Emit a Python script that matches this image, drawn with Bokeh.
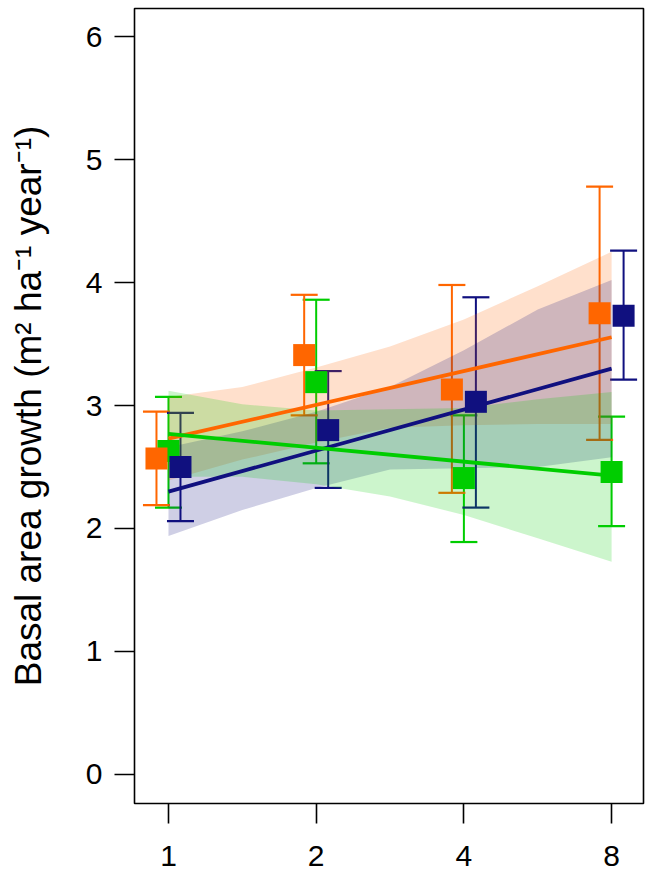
import numpy as np
from bokeh.plotting import figure
from bokeh.models import Range1d, FixedTicker, ColumnDataSource, Whisker, TeeHead
from bokeh.embed import file_html
from bokeh.resources import INLINE

# ---- data ----
doses = [1, 2, 4, 8]
tick_labels = ["1", "2", "4", "8"]

orange_mean = [2.57, 3.41, 3.13, 3.75]
orange_lo = [2.19, 2.92, 2.29, 2.72]
orange_hi = [2.95, 3.90, 3.98, 4.78]

green_mean = [2.63, 3.19, 2.41, 2.46]
green_lo = [2.17, 2.53, 1.89, 2.02]
green_hi = [3.07, 3.86, 2.92, 2.91]

navy_mean = [2.50, 2.80, 3.03, 3.73]
navy_lo = [2.06, 2.33, 2.17, 3.21]
navy_hi = [2.94, 3.28, 3.88, 4.26]

# fitted lines (at dose 1 and 8)
fit_dose = [1, 8]
orange_fit = [2.73, 3.555]
green_fit = [2.77, 2.43]
navy_fit = [2.30, 3.30]

# confidence bands
band_dose = [1, 1.414, 2, 2.828, 4, 5.657, 8]
orange_band_lo = [2.39, 2.56, 2.70, 2.82, 2.84, 2.85, 2.85]
orange_band_hi = [3.07, 3.15, 3.31, 3.48, 3.70, 3.97, 4.25]
green_band_lo = [2.42, 2.42, 2.36, 2.26, 2.11, 1.92, 1.73]
green_band_hi = [3.12, 3.01, 2.96, 2.97, 2.98, 3.05, 3.11]
navy_band_lo = [1.94, 2.15, 2.33, 2.48, 2.49, 2.50, 2.58]
navy_band_hi = [2.66, 2.79, 2.95, 3.15, 3.45, 3.78, 4.02]

ORANGE = "#FF6600"
GREEN = "#00CD00"
NAVY = "#10107F"
FONT = "Liberation Sans"

p = figure(width=645, height=878, output_backend="svg", toolbar_location=None,
           x_range=Range1d(-0.230, 3.216), y_range=Range1d(-0.236, 6.228),
           min_border_left=134, min_border_right=2, min_border_top=8, min_border_bottom=75)
p.title.visible = False
p.xgrid.visible = False
p.ygrid.visible = False
p.outline_line_color = "black"
p.outline_line_width = 1.6
p.background_fill_color = "white"
p.border_fill_color = "white"

lx = np.log2(band_dose)
for lo, hi, c in [(orange_band_lo, orange_band_hi, ORANGE),
                  (navy_band_lo, navy_band_hi, NAVY),
                  (green_band_lo, green_band_hi, GREEN)]:
    p.varea(x=lx, y1=lo, y2=hi, fill_color=c, fill_alpha=0.2)

fx = np.log2(fit_dose)
for ys, c in [(orange_fit, ORANGE), (navy_fit, NAVY), (green_fit, GREEN)]:
    p.line(fx, ys, line_color=c, line_width=3.8)

dx = np.log2(doses)
off = 12 / 147.7
groups = [(green_mean, green_lo, green_hi, GREEN, 0.0),
          (orange_mean, orange_lo, orange_hi, ORANGE, -off),
          (navy_mean, navy_lo, navy_hi, NAVY, off)]
for m, lo, hi, c, o in groups:
    src = ColumnDataSource(dict(x=dx + o, lo=lo, hi=hi))
    w = Whisker(source=src, base="x", lower="lo", upper="hi", dimension="height",
                line_color=c, line_width=2,
                upper_head=TeeHead(size=27, line_color=c, line_width=2.2),
                lower_head=TeeHead(size=27, line_color=c, line_width=2.2))
    p.add_layout(w)
for m, lo, hi, c, o in groups:
    p.scatter(dx + o, m, marker="square", size=22, fill_color=c, line_color=c, line_width=0)

# axes
p.xaxis.ticker = FixedTicker(ticks=list(dx))
p.xaxis.major_label_overrides = {float(v): t for v, t in zip(dx, tick_labels)}
p.xaxis.major_label_overrides.update({int(v): t for v, t in zip(dx, tick_labels)})
p.yaxis.ticker = FixedTicker(ticks=[0, 1, 2, 3, 4, 5, 6])
for ax in (p.xaxis[0], p.yaxis[0]):
    ax.axis_line_color = None
    ax.major_tick_line_color = "black"
    ax.major_tick_line_width = 1.6
    ax.major_tick_out = 20
    ax.major_tick_in = 0
    ax.minor_tick_line_color = None
    ax.major_label_text_font = FONT
    ax.major_label_text_font_size = "30px"
    ax.major_label_text_color = "black"
p.xaxis.major_label_standoff = 22
p.yaxis.major_label_standoff = 12
p.yaxis.major_label_orientation = "horizontal"

p.yaxis.axis_label = "Basal area growth (m\u00b2 ha\u207b\u00b9 year\u207b\u00b9)"
p.yaxis.axis_label_text_font = FONT
p.yaxis.axis_label_text_font_style = "normal"
p.yaxis.axis_label_text_font_size = "37px"
p.yaxis.axis_label_text_color = "black"
p.yaxis.axis_label_standoff = 34

open("out.html", "w").write(file_html(p, INLINE))
